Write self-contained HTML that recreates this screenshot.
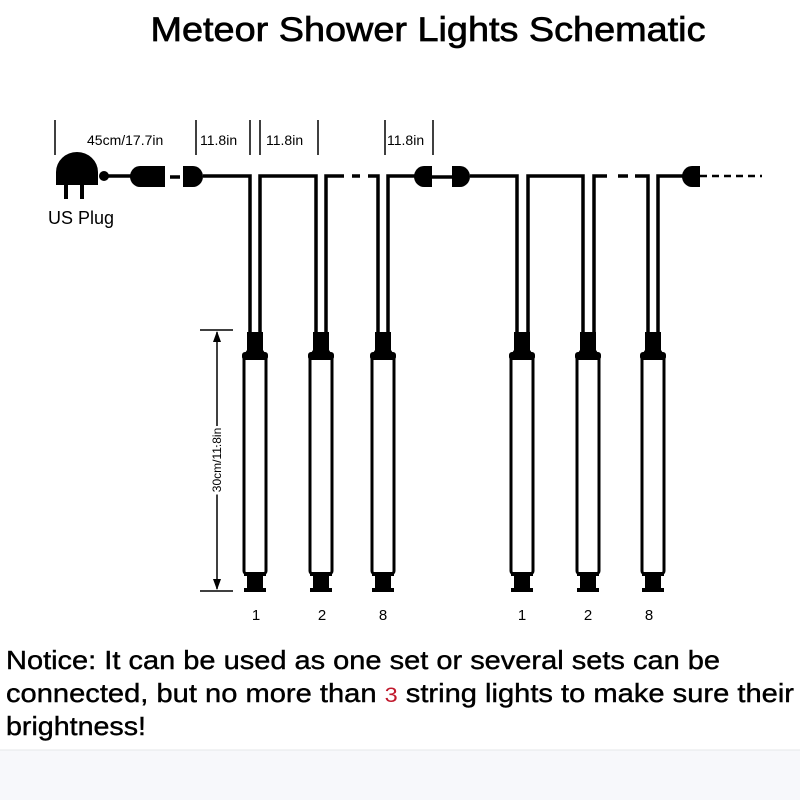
<!DOCTYPE html>
<html><head><style>
body{margin:0;width:800px;height:800px;background:#fff;overflow:hidden}
</style></head><body>
<svg width="800" height="800" xmlns="http://www.w3.org/2000/svg">
<rect x="0" y="750" width="800" height="50" fill="#f7f8fb"/>
<line x1="0" y1="750" x2="800" y2="750" stroke="#e6e7ea"/>
<text x="428" y="41" font-family="Liberation Sans, sans-serif" font-size="34" text-anchor="middle" textLength="555" lengthAdjust="spacingAndGlyphs" stroke="#000" stroke-width="0.7">Meteor Shower Lights Schematic</text>
<g stroke="#000" stroke-width="1.5">
<line x1="55" y1="120" x2="55" y2="155"/>
<line x1="196" y1="120" x2="196" y2="155"/>
<line x1="250" y1="120" x2="250" y2="155"/>
<line x1="260" y1="120" x2="260" y2="155"/>
<line x1="318" y1="120" x2="318" y2="155"/>
<line x1="385" y1="120" x2="385" y2="155"/>
<line x1="433" y1="120" x2="433" y2="155"/>
</g>
<g font-family="Liberation Sans, sans-serif" font-size="14">
<text x="87" y="145">45cm/17.7in</text>
<text x="200" y="145">11.8in</text>
<text x="266" y="145">11.8in</text>
<text x="387" y="145">11.8in</text>
<text x="48" y="224" font-size="18">US Plug</text>
</g>
<!-- plug -->
<path d="M56 185 L56 172 A21 20 0 0 1 98 172 L98 185 Z" fill="#000"/>
<circle cx="104" cy="176" r="5" fill="#000"/>
<rect x="64" y="185" width="4" height="14" fill="#000"/>
<rect x="80" y="185" width="4" height="14" fill="#000"/>
<g fill="none" stroke="#000" stroke-width="3.5">
<line x1="106" y1="176" x2="132" y2="176"/>
<line x1="170" y1="177" x2="180" y2="177"/>
<path d="M203 176 H250 V335"/>
<path d="M260 335 V176 H316 V335"/>
<path d="M326 335 V176 H344"/>
<path d="M352 176 H360 M368 176 H378 V335"/>
<path d="M388 335 V176 H416"/>
<line x1="432" y1="177" x2="452" y2="177"/>
<path d="M470 176 H517 V335"/>
<path d="M528 335 V176 H583 V335"/>
<path d="M594 335 V176 H607"/>
<path d="M618 176 H628 M635 176 H648 V335"/>
<path d="M658 335 V176 H684"/>
</g>
<path d="M700 176 H762" stroke="#000" stroke-width="2.5" stroke-dasharray="7,5"/>
<!-- connectors -->
<path d="M165 166 H140 A10 10.5 0 0 0 140 187 H165 Z" fill="#000"/>
<path d="M183 166 H193 A10 10.5 0 0 1 193 187 H183 Z" fill="#000"/>
<path d="M432 166 H424 A10 10.5 0 0 0 424 187 H432 Z" fill="#000"/>
<path d="M452 166 H460 A10 10.5 0 0 1 460 187 H452 Z" fill="#000"/>
<path d="M700 166 H692 A10 10.5 0 0 0 692 187 H700 Z" fill="#000"/>
<!-- tubes -->
<defs>
<g id="tube">
<rect x="-8" y="332" width="16" height="20" fill="#000"/>
<path d="M-8 350 L-12 356 H12 L8 350 Z" fill="#000"/>
<rect x="-11" y="356" width="22" height="218" rx="3" fill="#fff" stroke="#000" stroke-width="3"/>
<rect x="-13" y="352" width="26" height="8" rx="3" fill="#000"/>
<rect x="-8" y="574" width="16" height="18" fill="#000"/>
<rect x="-11" y="588" width="22" height="4" fill="#000"/>
<rect x="-11" y="572" width="22" height="4" fill="#000"/>
</g>
</defs>
<use href="#tube" x="255"/>
<use href="#tube" x="321"/>
<use href="#tube" x="383"/>
<use href="#tube" x="522"/>
<use href="#tube" x="588"/>
<use href="#tube" x="653"/>
<g font-family="Liberation Sans, sans-serif" font-size="15" text-anchor="middle">
<text x="256" y="620">1</text><text x="322" y="620">2</text><text x="383" y="620">8</text>
<text x="522" y="620">1</text><text x="588" y="620">2</text><text x="649" y="620">8</text>
</g>
<!-- dimension -->
<g stroke="#000" stroke-width="1.5">
<line x1="200" y1="330" x2="233" y2="330"/>
<line x1="200" y1="591" x2="233" y2="591"/>
<line x1="217" y1="332" x2="217" y2="589"/>
</g>
<path d="M217 331 L213 342 L221 342 Z M217 590 L213 579 L221 579 Z" fill="#000"/>
<text transform="translate(221,460) rotate(-90)" font-family="Liberation Sans, sans-serif" font-size="12" text-anchor="middle" fill="#fff" stroke="#fff" stroke-width="5">30cm/11.8in</text>
<text transform="translate(221,460) rotate(-90)" font-family="Liberation Sans, sans-serif" font-size="12" text-anchor="middle">30cm/11.8in</text>
<g font-family="Liberation Sans, sans-serif" font-size="26" stroke="#000" stroke-width="0.4">
<text x="6" y="669" textLength="714" lengthAdjust="spacingAndGlyphs">Notice: It can be used as one set or several sets can be</text>
<text x="6" y="702" textLength="788" lengthAdjust="spacingAndGlyphs">connected, but no more than <tspan fill="#c0182c" stroke="none" font-size="21">3</tspan> string lights to make sure their</text>
<text x="6" y="735" textLength="140" lengthAdjust="spacingAndGlyphs">brightness!</text>
</g>
</svg>
</body></html>
